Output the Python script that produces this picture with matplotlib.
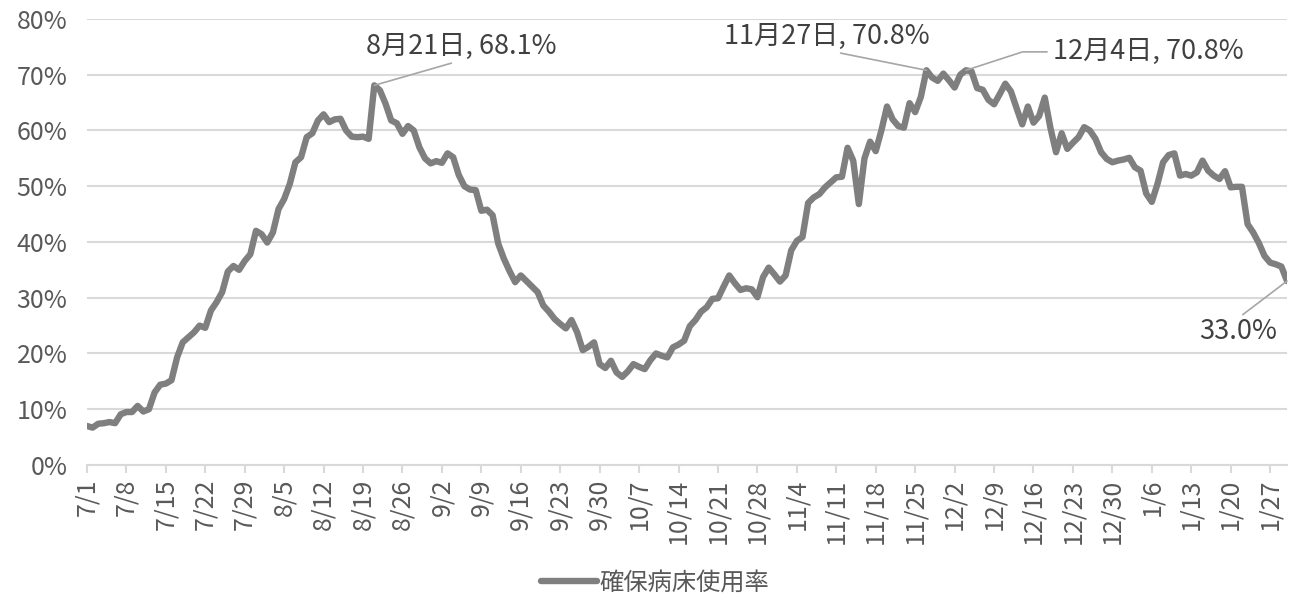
import numpy as np
import pandas as pd
import matplotlib
matplotlib.use('Agg')
import matplotlib.pyplot as plt

plt.rcParams['font.family'] = ['Noto Sans CJK JP', 'DejaVu Sans']

# daily dates, 7/1 .. 1/30
dates = pd.date_range('2020-07-01', '2021-01-30', freq='D')

# secured-bed occupancy rate (%)
rate = [
    7.0, 6.7, 7.4, 7.5, 7.7, 7.5, 9.1, 9.5, 9.5, 10.6, 9.6, 10.0, 13.0, 14.4,
    14.6, 15.2, 19.3, 22.0, 22.9, 23.8, 25.0, 24.6, 27.7, 29.2, 31.0, 34.7, 35.7, 35.0,
    36.6, 37.8, 42.0, 41.4, 39.9, 41.7, 45.9, 47.7, 50.4, 54.3, 55.2, 58.8, 59.5, 61.8,
    62.9, 61.5, 62.0, 62.1, 60.0, 58.9, 58.8, 58.9, 58.5, 68.1, 67.2, 64.8, 61.8, 61.3,
    59.4, 60.8, 60.0, 57.0, 55.0, 54.1, 54.5, 54.2, 55.9, 55.2, 52.0, 50.0, 49.4, 49.3,
    45.6, 45.8, 44.8, 39.7, 37.0, 34.8, 32.8, 34.0, 33.0, 32.0, 31.0, 28.6, 27.5, 26.2,
    25.3, 24.5, 26.0, 23.8, 20.6, 21.2, 22.0, 18.1, 17.4, 18.7, 16.6, 15.8, 16.8, 18.1,
    17.6, 17.2, 18.8, 20.0, 19.6, 19.3, 21.1, 21.6, 22.3, 24.9, 26.0, 27.5, 28.3, 29.8,
    29.9, 32.0, 34.0, 32.6, 31.4, 31.7, 31.5, 30.1, 33.7, 35.4, 34.2, 32.9, 34.0, 38.5,
    40.2, 40.9, 47.0, 48.0, 48.6, 49.8, 50.7, 51.6, 51.7, 56.9, 54.6, 46.8, 55.0, 58.0,
    56.3, 60.0, 64.3, 62.0, 60.8, 60.5, 64.9, 63.3, 66.0, 70.8, 69.5, 68.9, 70.2, 69.0,
    67.7, 70.0, 70.8, 70.6, 67.6, 67.3, 65.5, 64.7, 66.5, 68.4, 67.0, 64.0, 61.1, 64.3,
    61.4, 62.6, 65.9, 60.5, 56.1, 59.5, 56.7, 57.8, 58.8, 60.6, 60.0, 58.5, 56.1, 54.9,
    54.3, 54.6, 54.8, 55.1, 53.4, 52.8, 48.7, 47.2, 50.4, 54.3, 55.6, 55.9, 51.9, 52.2,
    51.9, 52.5, 54.6, 52.8, 51.9, 51.3, 52.7, 49.8, 49.9, 49.9, 43.2, 41.7, 39.8, 37.5,
    36.3, 36.0, 35.6, 33.0,
]

tick_labels = [f"{d.month}/{d.day}" for d in dates[::7]]

fig = plt.figure(figsize=(12.9, 6.01), dpi=100)
ax = fig.add_axes([0.0674, 0.2263, 0.9303, 0.7421])

x = np.arange(len(rate))
line, = ax.plot(x, rate, color='#7f7f7f', lw=4.6, solid_joinstyle='round',
                solid_capstyle='round', label='確保病床使用率', zorder=3)

ax.set_xlim(0, len(rate) - 1)
ax.set_ylim(0, 80)
ax.set_yticks(np.arange(0, 81, 10))
ax.set_yticklabels([f"{v}%" for v in range(0, 81, 10)])
ax.set_xticks(x[::7])
ax.set_xticklabels(tick_labels, rotation=90)

ax.grid(axis='y', color='#d9d9d9', lw=1.5)
ax.set_axisbelow(True)
for s in ['top', 'right', 'left']:
    ax.spines[s].set_visible(False)
ax.spines['bottom'].set_color('#d9d9d9')
ax.spines['bottom'].set_linewidth(1.5)
ax.tick_params(axis='y', length=0, pad=14, labelsize=18, labelcolor='#595959')
ax.tick_params(axis='x', length=6, width=1.5, color='#d9d9d9', pad=4,
               labelsize=18, labelcolor='#595959')

# data labels
gray = '#a6a6a6'
txt = '#404040'
fs = 19.5


def day_of(s):
    return int((pd.Timestamp(s) - dates[0]).days)


for s, pos, rel in [('2020-08-21', (66.4, 75.0), (0.5, 0)),
                    ('2020-11-27', (131.3, 76.8), (0.5, 0))]:
    i = day_of(s)
    d = dates[i]
    ax.annotate(f"{d.month}月{d.day}日, {rate[i]:.1f}%", xy=(i, rate[i]), xytext=pos,
                ha='center', va='center', fontsize=fs, color=txt,
                arrowprops=dict(arrowstyle='-', color=gray, lw=1.2, shrinkA=0, shrinkB=0,
                                relpos=rel), annotation_clip=False)

i = day_of('2020-12-04')
d = dates[i]
ax.annotate(f"{d.month}月{d.day}日, {rate[i]:.1f}%", xy=(i, rate[i]), xytext=(171.4, 74.1),
            ha='left', va='center', fontsize=fs, color=txt,
            arrowprops=dict(arrowstyle='-', color=gray, lw=1.2, shrinkA=2, shrinkB=0,
                            relpos=(0, 0.5),
                            connectionstyle='angle,angleA=180,angleB=18,rad=0'),
            annotation_clip=False)

i = len(rate) - 1
ax.annotate(f"{rate[i]:.1f}%", xy=(i, rate[i]), xytext=(204.3, 23.9),
            ha='center', va='center', fontsize=fs, color=txt,
            arrowprops=dict(arrowstyle='-', color=gray, lw=1.2, shrinkA=1, shrinkB=0,
                            relpos=(0.5, 1)), annotation_clip=False)

fig.legend(handles=[line], loc='center', bbox_to_anchor=(0.508, 0.03), frameon=False,
           fontsize=17.5, labelcolor='#595959', handlelength=2.3, handletextpad=0.1)

fig.savefig('out.png', dpi=100)
